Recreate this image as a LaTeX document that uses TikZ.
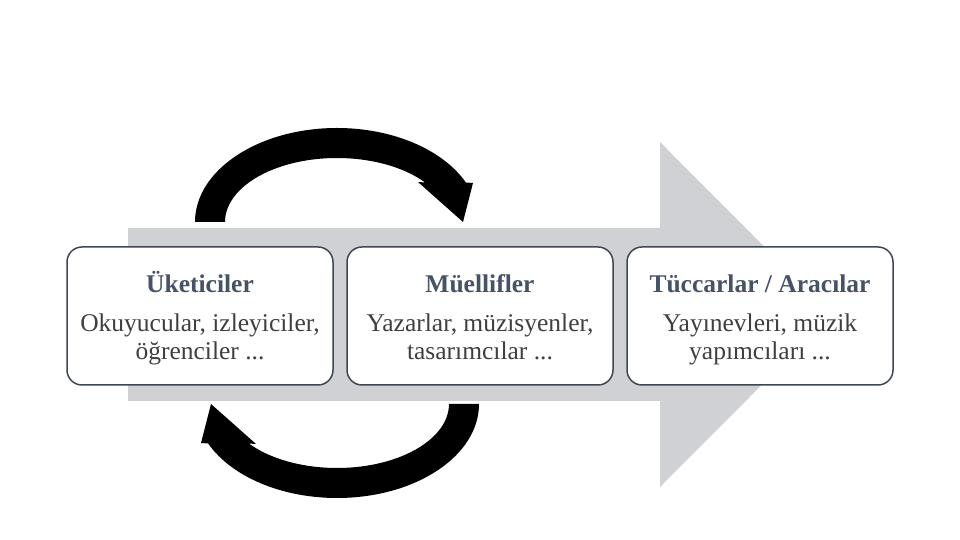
\documentclass[tikz,border=0pt]{standalone}
\usepackage{fontspec}
\setmainfont{Liberation Serif}
\usetikzlibrary{positioning}
\definecolor{barGray}{HTML}{D0D1D5}
\definecolor{boxLine}{HTML}{3F4752}
\definecolor{ttlText}{HTML}{465266}
\definecolor{bodyText}{HTML}{3F3F3F}
\newcommand{\topstrut}{\rule[-8.4pt]{0pt}{37pt}}

\begin{document}
\begin{tikzpicture}[x=1pt, y=1pt,
    role/.style={draw=boxLine, line width=1.5pt, rounded corners=15pt, fill=white, minimum width=266pt, minimum height=138pt, align=center, font=\fontsize{25.5}{28}\selectfont, text=bodyText},
    cyc/.pic={
        \fill[black] (-142,0) arc[start angle=180, end angle=24.85, x radius=142, y radius=94]
            -- (136,39) -- (126,0) -- (81,40)
            -- ({112*cos(38.1)},{64*sin(38.1)})
            arc[start angle=38.1, end angle=180, x radius=112, y radius=64] -- cycle;
    }
]
\useasboundingbox (0,0) rectangle (960,540);

% flow arrow behind the boxes
\fill[barGray] (128,312) -- (660,312) -- (660,398) -- (832,225.5) -- (660,53) -- (660,139) -- (128,139) -- cycle;

% circular arrows
\pic at (337,318) {cyc};
\pic[rotate=180] at (337,136) {cyc};

\node[role] (cons) at (200,224) {\topstrut\textcolor{ttlText}{\bfseries Üketiciler}\\[11pt] Okuyucular, izleyiciler,\\ öğrenciler ...\strut};
\node[role] (auth) at (480,224) {\topstrut\textcolor{ttlText}{\bfseries Müellifler}\\[11pt] Yazarlar, müzisyenler,\\ tasarımcılar ...\strut};
\node[role] (merch) at (760,224) {\topstrut\textcolor{ttlText}{\bfseries Tüccarlar / Aracılar}\\[11pt] Yayınevleri, müzik\\ yapımcıları ...\strut};
\end{tikzpicture}
\end{document}
